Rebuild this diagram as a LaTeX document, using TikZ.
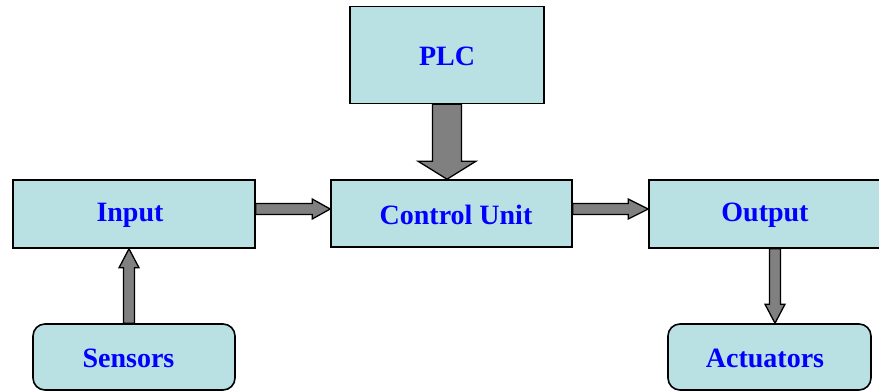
\documentclass[tikz,border=0pt]{standalone}
\usepackage{fontspec}
\setmainfont{Liberation Serif}
\usetikzlibrary{calc}

\definecolor{boxfill}{RGB}{185,224,227}
\definecolor{arrowgray}{RGB}{128,128,128}
\definecolor{labelblue}{RGB}{0,0,255}

% block arrow: from, to, shaft half-width, head half-width, head length
\newcommand\blockarrow[5]{%
  \coordinate (ba-neck) at ($(#2)!#5!(#1)$);
  \draw[barrow]
    ($(#1)!#3!90:(#2)$) -- ($(ba-neck)!#3!90:(#2)$) -- ($(ba-neck)!#4!90:(#2)$)
    -- (#2)
    -- ($(ba-neck)!#4!-90:(#2)$) -- ($(ba-neck)!#3!-90:(#2)$) -- ($(#1)!#3!-90:(#2)$)
    -- cycle;}

\begin{document}
\begin{tikzpicture}[x=1pt, y=1pt,
  box/.style={draw=black, line width=1.6pt, fill=boxfill, inner sep=0pt},
  roundbox/.style={box, rounded corners=12pt},
  caption/.style={text=labelblue, inner sep=0pt,
    font=\fontsize{28}{33}\selectfont\bfseries, yshift=-1.5pt},
  barrow/.style={draw=black, line width=1.3pt, fill=arrowgray, line join=miter}]

  \useasboundingbox (0,0) rectangle (879,-391);

  % blocks
  \node[box, minimum width=194, minimum height=97,
    label={[caption]center:PLC}] (plc) at (447,-55) {};
  \node[box, minimum width=241, minimum height=67,
    label={[caption, xshift=4.5pt]center:Control Unit}] (cu) at (451.5,-213.5) {};
  \node[box, minimum width=242, minimum height=68,
    label={[caption, xshift=-4pt]center:Input}] (in) at (134,-214) {};
  \node[box, minimum width=232, minimum height=68,
    label={[caption]center:Output}] (out) at (765,-214) {};
  \node[roundbox, minimum width=202, minimum height=66,
    label={[caption, xshift=-5.5pt]center:Sensors}] (sens) at (134,-357) {};
  \node[roundbox, minimum width=203, minimum height=66,
    label={[caption, xshift=-4.5pt]center:Actuators}] (act) at (769.5,-357) {};

  % arrow end points
  \coordinate (plc-s) at (plc.south);
  \coordinate (cu-n) at (plc-s |- cu.north);
  \coordinate (in-e) at ($(in.east)+(0,5)$);
  \coordinate (cu-w) at (in-e -| cu.west);
  \coordinate (cu-e) at ($(cu.east)+(0,4.5)$);
  \coordinate (out-w) at (cu-e -| out.west);
  \coordinate (sens-n) at ($(sens.north)+(-5,0)$);
  \coordinate (in-s) at (sens-n |- in.south);
  \coordinate (out-s) at ($(out.south)+(10,0)$);
  \coordinate (act-n) at (out-s |- act.north);

  % connectors
  \blockarrow{plc-s}{cu-n}{14.5pt}{29pt}{18pt}
  \blockarrow{in-e}{cu-w}{5.5pt}{10pt}{18pt}
  \blockarrow{cu-e}{out-w}{5.5pt}{10pt}{20pt}
  \blockarrow{sens-n}{in-s}{5.5pt}{10pt}{19pt}
  \blockarrow{out-s}{act-n}{5.5pt}{10pt}{19pt}
\end{tikzpicture}
\end{document}
